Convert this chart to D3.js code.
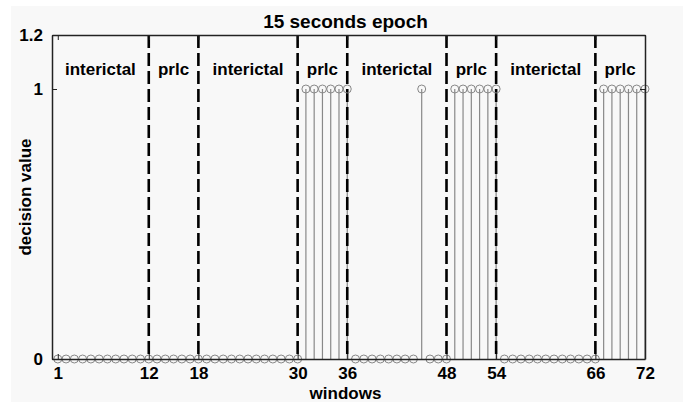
<!DOCTYPE html>
<html>
<head>
<meta charset="utf-8">
<script src="https://cdn.jsdelivr.net/npm/d3@7"></script>
<style>
  body { margin: 0; background: #fff; }
  text { font-family: "Liberation Sans", Arial, sans-serif; font-weight: bold; fill: #000; }
</style>
</head>
<body>
<div id="chart"></div>
<script>
// decision value for each window 1..72
const decisions = [
  0, 0, 0, 0, 0, 0, 0, 0, 0, 0, 0, 0,
  0, 0, 0, 0, 0, 0,
  0, 0, 0, 0, 0, 0, 0, 0, 0, 0, 0, 0,
  1, 1, 1, 1, 1, 1,
  0, 0, 0, 0, 0, 0, 0, 0, 1, 0, 0, 0,
  1, 1, 1, 1, 1, 1,
  0, 0, 0, 0, 0, 0, 0, 0, 0, 0, 0, 0,
  1, 1, 1, 1, 1, 1
];
const boundaries = [12, 18, 30, 36, 48, 54, 66];
const regionNames = ['interictal', 'prlc', 'interictal', 'prlc', 'interictal', 'prlc', 'interictal', 'prlc'];
const xTicks = [1, 12, 18, 30, 36, 48, 54, 66, 72];
const yTicks = [0, 1, 1.2];

const width = 688;
const height = 406;
const margin = { top: 35, right: 43, bottom: 47, left: 52 };

const svg = d3.select('#chart')
  .append('svg')
  .attr('width', width)
  .attr('height', height);

// figure background
svg.append('rect')
  .attr('x', 11).attr('y', 6)
  .attr('width', 672).attr('height', 396)
  .attr('fill', '#f8f8f8');

const x = d3.scaleLinear()
  .domain([0.3, 72])
  .range([margin.left, width - margin.right]);

const y = d3.scaleLinear()
  .domain([0, 1.2])
  .range([height - margin.bottom, margin.top]);

const x0 = x.range()[0], x1 = x.range()[1];
const y0 = y.range()[0], y1 = y.range()[1];

// stems
const points = decisions.map((v, i) => ({ w: i + 1, v: v }));
svg.append('g')
  .selectAll('line')
  .data(points.filter(d => d.v !== 0))
  .join('line')
  .attr('x1', d => x(d.w)).attr('x2', d => x(d.w))
  .attr('y1', y(0)).attr('y2', d => y(d.v))
  .attr('stroke', '#888')
  .attr('stroke-width', 1.2);

// region boundaries
svg.append('g')
  .selectAll('line')
  .data(boundaries)
  .join('line')
  .attr('x1', d => x(d)).attr('x2', d => x(d))
  .attr('y1', y1).attr('y2', y0)
  .attr('stroke', '#000')
  .attr('stroke-width', 2.6)
  .attr('stroke-dasharray', '13,5');

// markers
svg.append('g')
  .selectAll('circle')
  .data(points)
  .join('circle')
  .attr('cx', d => x(d.w))
  .attr('cy', d => y(d.v))
  .attr('r', 4)
  .attr('fill', 'none')
  .attr('stroke', '#888')
  .attr('stroke-width', 1);

// axes box with inward ticks
const axisG = svg.append('g');
axisG.append('g')
  .attr('transform', `translate(0,${y0})`)
  .call(d3.axisBottom(x).tickValues(xTicks).tickSizeInner(-5).tickSizeOuter(0).tickPadding(8).tickFormat(d3.format('d')));
axisG.append('g')
  .attr('transform', `translate(0,${y1})`)
  .call(d3.axisTop(x).tickValues(xTicks).tickSizeInner(-5).tickSizeOuter(0).tickFormat(''));
axisG.append('g')
  .attr('transform', `translate(${x0},0)`)
  .call(d3.axisLeft(y).tickValues(yTicks).tickSizeInner(-5).tickSizeOuter(0).tickPadding(9).tickFormat(d => d === 0 || d === 1 ? d : d3.format('.1f')(d)));
axisG.append('g')
  .attr('transform', `translate(${x1},0)`)
  .call(d3.axisRight(y).tickValues(yTicks).tickSizeInner(-5).tickSizeOuter(0).tickFormat(''));

axisG.selectAll('.domain').attr('stroke', '#222').attr('stroke-width', 1.5);
axisG.selectAll('.tick line').attr('stroke', '#222');
axisG.selectAll('.tick text')
  .attr('font-size', 17)
  .attr('font-family', '"Liberation Sans", Arial, sans-serif')
  .attr('font-weight', 'bold')
  .attr('fill', '#000');

// region labels
const edges = [0.3].concat(boundaries, [72]);
svg.append('g')
  .selectAll('text')
  .data(regionNames)
  .join('text')
  .attr('x', (d, i) => x((edges[i] + edges[i + 1]) / 2))
  .attr('y', 75)
  .attr('text-anchor', 'middle')
  .attr('font-size', 17)
  .text(d => d);

// title and axis labels
svg.append('text')
  .attr('x', (x0 + x1) / 2 - 3)
  .attr('y', 28)
  .attr('text-anchor', 'middle')
  .attr('font-size', 19)
  .text('15 seconds epoch');

svg.append('text')
  .attr('x', (x0 + x1) / 2 - 3)
  .attr('y', 399)
  .attr('text-anchor', 'middle')
  .attr('font-size', 17)
  .text('windows');

svg.append('text')
  .attr('transform', `translate(31,${(y0 + y1) / 2}) rotate(-90)`)
  .attr('text-anchor', 'middle')
  .attr('font-size', 17)
  .text('decision value');
</script>
</body>
</html>
